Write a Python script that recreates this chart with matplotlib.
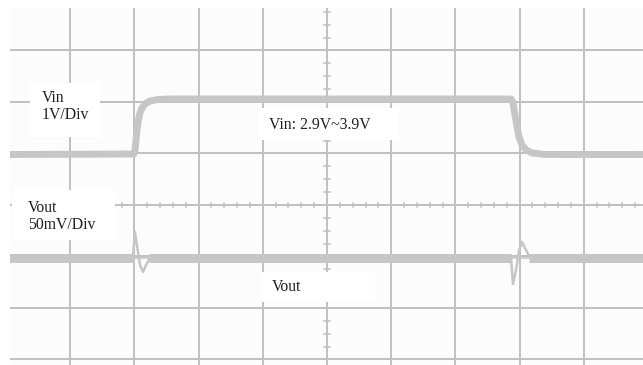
import numpy as np
import matplotlib.pyplot as plt
from matplotlib.patches import Rectangle

# Осциллограмма: время и напряжение в делениях экрана
vin_t = [0.0, 1.99, 2.01, 2.025, 2.04, 2.056, 2.087, 2.118, 2.165, 2.243, 2.368, 2.555,
         7.866, 7.897, 7.928, 7.96, 7.991, 8.037, 8.10, 8.193, 8.396, 10.0]
vin_v = [0.98, 0.99, 1.068, 1.262, 1.456, 1.612, 1.786, 1.883, 1.961, 2.019, 2.049, 2.058,
         2.058, 1.981, 1.748, 1.515, 1.32, 1.165, 1.068, 1.01, 0.981, 0.98]

vout_base = -1.02
vout_segments = [(0.0, 1.99), (2.22, 7.87), (8.14, 10.0)]

spike1_t = [1.978, 2.009, 2.04, 2.087, 2.134, 2.181, 2.243]
spike1_v = [-1.02, -0.524, -0.777, -1.165, -1.301, -1.165, -1.03]
spike2_t = [7.866, 7.897, 7.944, 7.991, 8.037, 8.084, 8.146]
spike2_v = [-1.02, -1.534, -1.262, -0.874, -0.718, -0.835, -0.99]

labels = ["Vin\n1V/Div", "Vout\n50mV/Div", "Vin: 2.9V~3.9V", "Vout"]

grid_c = '#c0c0c0'
trace_c = '#c6c6c6'

fig = plt.figure(figsize=(6.43, 3.65), dpi=100)
ax = fig.add_axes([10 / 643, 0, 633 / 643, 357 / 365])
ax.set_xlim(0.0623, 9.922)
ax.set_ylim(-3.107, 3.825)
ax.axis('off')
ax.add_patch(Rectangle((0, 0), 1, 1, transform=ax.transAxes, fc='#fcfcfc', ec='none', zorder=0))

# сетка
for k in range(1, 10):
    ax.axvline(k, color=grid_c, lw=1.4, zorder=1)
for k in range(-3, 4):
    ax.axhline(k, color=grid_c, lw=1.4, zorder=1)

# мелкие риски на центральных линиях
for x in np.arange(0, 10.01, 0.2):
    ax.plot([x, x], [-0.035, 0.035], color=grid_c, lw=1.1, zorder=1)
for y in np.arange(-4, 4.01, 0.25):
    ax.plot([4.96, 5.04], [y, y], color=grid_c, lw=1.1, zorder=1)

# белые подложки под подписи
boxes = [(0.374, 1.32, 1.09, 1.05), (0.093, -0.68, 1.605, 0.971),
         (3.925, 1.262, 2.18, 0.621), (3.988, -1.883, 1.76, 0.582)]
for x0, y0, w, h in boxes:
    ax.add_patch(Rectangle((x0, y0), w, h, fc='white', ec='none', zorder=2))

# Vin
ax.plot(vin_t, vin_v, color=trace_c, lw=5, solid_capstyle='butt', zorder=3)

# Vout
for a, b in vout_segments:
    ax.plot([a, b], [vout_base, vout_base], color=trace_c, lw=6.5,
            solid_capstyle='butt', zorder=3)
ax.plot(spike1_t, spike1_v, color=trace_c, lw=1.8, zorder=3)
ax.plot(spike2_t, spike2_v, color=trace_c, lw=1.8, zorder=3)
ax.plot([1.99, 2.24], [vout_base, vout_base], color=trace_c, lw=1.2, zorder=3)
ax.plot([7.87, 8.14], [vout_base, vout_base], color=trace_c, lw=1.2, zorder=3)

font = dict(family='Liberation Serif', fontsize=11.3, color='#1e1e1e', zorder=4,
            va='center', ha='left', linespacing=1.1)
ax.text(0.561, 1.913, labels[0], **font)
ax.text(0.343, -0.223, labels[1], **font)
ax.text(4.097, 1.553, labels[2], **font)
ax.text(4.143, -1.592, labels[3], **font)

fig.savefig('out.png', dpi=100, facecolor='white')
